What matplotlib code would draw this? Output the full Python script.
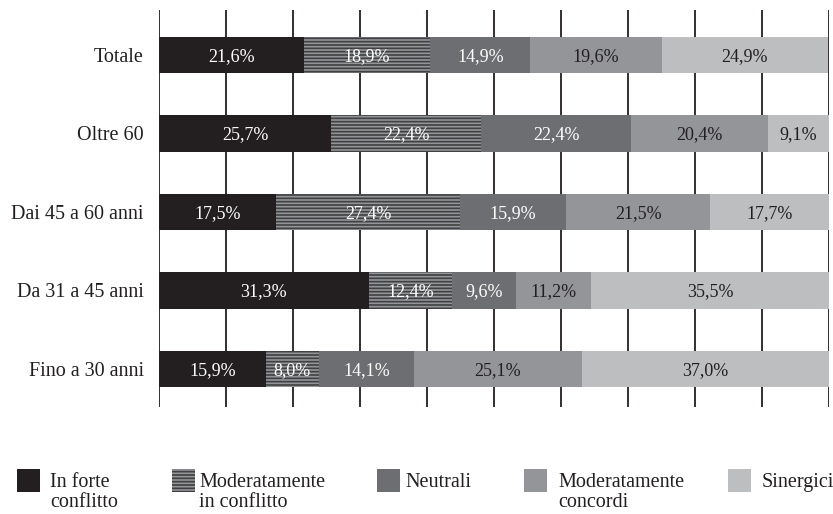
import matplotlib
matplotlib.use("Agg")
import matplotlib.pyplot as plt
from matplotlib.patches import Rectangle
import numpy as np

plt.rcParams['font.family'] = ['Liberation Serif', 'DejaVu Serif']
plt.rcParams['hatch.linewidth'] = 1.2

categories = ["Fino a 30 anni", "Da 31 a 45 anni", "Dai 45 a 60 anni", "Oltre 60", "Totale"]
series_names = ["In forte\nconflitto", "Moderatamente\nin conflitto", "Neutrali",
                "Moderatamente\nconcordi", "Sinergici"]
forte_conflitto = [15.9, 31.3, 17.5, 25.7, 21.6]
mod_conflitto = [8.0, 12.4, 27.4, 22.4, 18.9]
neutrali = [14.1, 9.6, 15.9, 22.4, 14.9]
mod_concordi = [25.1, 11.2, 21.5, 20.4, 19.6]
sinergici = [37.0, 35.5, 17.7, 9.1, 24.9]
series = [forte_conflitto, mod_conflitto, neutrali, mod_concordi, sinergici]

colors = ['#231f20', '#939598', '#6d6e71', '#939598', '#bcbec0']
hatches = [None, '-----', None, None, None]
hatch_edge = [None, '#404042', None, None, None]
text_colors = ['white', 'white', 'white', '#231f20', '#231f20']

W, H = 833, 514
fig = plt.figure(figsize=(W / 100, H / 100), dpi=100)
ax = fig.add_axes([159 / W, (H - 407) / H, 670 / W, (407 - 10) / H])

y = np.arange(len(categories))
left = np.zeros(len(categories))
for vals, col, hat, hcol, tcol in zip(series, colors, hatches, hatch_edge, text_colors):
    vals = np.array(vals)
    if hat:
        ax.barh(y, vals, left=left, height=0.47, color=col, hatch=hat,
                edgecolor=hcol, linewidth=0, zorder=3)
    else:
        ax.barh(y, vals, left=left, height=0.47, color=col, linewidth=0, zorder=3)
    for yi, l, v in zip(y, left, vals):
        ax.text(l + v / 2, yi - 0.02, f"{v:.1f}%".replace('.', ','), ha='center', va='center',
                color=tcol, fontsize=13, zorder=5)
    left = left + vals

ax.set_xlim(0, 100)
ax.set_ylim(-0.484, 4.573)
ax.set_xticks(np.arange(0, 101, 10))
ax.grid(axis='x', color='#231f20', linewidth=1.3, zorder=0)
ax.set_axisbelow(True)
ax.tick_params(axis='x', length=0, labelbottom=False)
ax.tick_params(axis='y', length=0, pad=11)
ax.set_yticks(y)
ax.set_yticklabels(categories, fontsize=14.5, color='#231f20')
for s in ax.spines.values():
    s.set_visible(False)

# legend
leg_patch_x = [17, 172, 377, 524, 728]
leg_text_x = [50, 199, 405, 558, 762]
for i, name in enumerate(series_names):
    px = leg_patch_x[i]
    r = Rectangle((px / W, (H - 492) / H), 23 / W, 23 / H, transform=fig.transFigure,
                  facecolor=colors[i], hatch=hatches[i],
                  edgecolor=hatch_edge[i] if hatch_edge[i] else colors[i], linewidth=0)
    fig.add_artist(r)
    lines = name.split('\n')
    for j, line in enumerate(lines):
        fig.text(leg_text_x[i] / W, (H - (487 + 20 * j)) / H, line, ha='left', va='baseline',
                 fontsize=14.5, color='#231f20')

fig.savefig("out.png", dpi=100)
